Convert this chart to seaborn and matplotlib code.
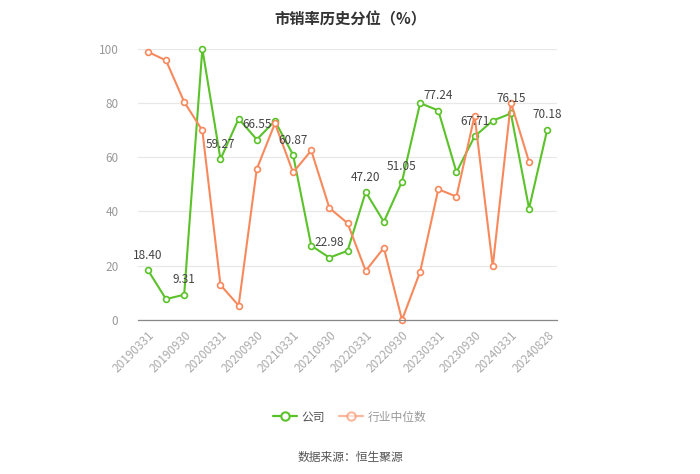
import matplotlib
matplotlib.use("Agg")
import matplotlib.pyplot as plt
import seaborn as sns
import pandas as pd
import numpy as np

dates = ["20190331", "20190630", "20190930", "20191231", "20200331", "20200630",
         "20200930", "20201231", "20210331", "20210630", "20210930", "20211231",
         "20220331", "20220630", "20220930", "20221231", "20230331", "20230630",
         "20230930", "20231231", "20240331", "20240630", "20240828"]
company = [18.40, 7.7, 9.31, 100.0, 59.27, 74.2, 66.55, 73.4, 60.87, 27.4, 22.98, 25.5,
           47.20, 36.2, 51.05, 80.0, 77.24, 54.5, 67.71, 73.5, 76.15, 41.1, 70.18]
industry = [98.9, 95.7, 80.4, 69.9, 12.9, 5.3, 55.7, 72.5, 54.4, 62.5, 41.3, 35.7,
            18.1, 26.6, 0.0, 17.8, 48.2, 45.5, 75.4, 19.8, 80.2, 58.3, None]
labeled_idx = [0, 2, 4, 6, 8, 10, 12, 14, 16, 18, 20, 22]
yticks = [0, 20, 40, 60, 80, 100]

title = "市销率历史分位（%）"
series_names = ["公司", "行业中位数"]
source = "数据来源：恒生聚源"

sns.set_theme(style="white")
plt.rcParams['font.family'] = ['Noto Sans CJK SC', 'DejaVu Sans']

green = "#5bc22a"
orange = "#f7895c"

df = pd.DataFrame({
    "idx": list(range(len(dates))) * 2,
    "value": company + industry,
    "series": [series_names[0]] * len(dates) + [series_names[1]] * len(dates),
}).dropna()

fig = plt.figure(figsize=(7.0, 4.74), dpi=100)
ax = fig.add_axes([0.197, 0.325, 0.599, 0.572])

sns.lineplot(data=df, x="idx", y="value", hue="series",
             palette={series_names[0]: green, series_names[1]: orange},
             hue_order=[series_names[0], series_names[1]],
             marker="o", markersize=4.2, markerfacecolor="white",
             markeredgewidth=1.2, linewidth=1.5, ax=ax, legend=False,
             clip_on=False)

for line, col in zip(ax.lines, [green, orange]):
    line.set_markeredgecolor(col)

for i in labeled_idx:
    ax.annotate(f"{company[i]:.2f}", (i, company[i]), xytext=(0, 6),
                textcoords="offset points", ha="center", va="bottom",
                fontsize=8.5, color="#444444")

ax.set_xlim(-0.55, len(dates) - 1 + 0.55)
ax.set_ylim(0, 100)
ax.set_yticks(yticks)
ax.set_yticklabels([str(v) for v in yticks], fontsize=8.5, color="#999999")
ax.set_xticks(range(0, len(dates), 2))
ax.set_xticklabels([dates[i] for i in range(0, len(dates), 2)], rotation=45,
                   ha="right", rotation_mode="anchor", fontsize=8.5, color="#aaaaaa")
ax.tick_params(axis="x", length=4, color="#888888", width=0.8, pad=2)
ax.tick_params(axis="y", length=0, pad=14)
ax.set_xlabel("")
ax.set_ylabel("")
ax.grid(axis="y", color="#e8e8e8", linewidth=0.9)
ax.set_axisbelow(True)
for s in ["top", "right", "left"]:
    ax.spines[s].set_visible(False)
ax.spines["bottom"].set_color("#888888")
ax.spines["bottom"].set_linewidth(0.9)

fig.text(0.5, 0.975, title, ha="center", va="top", fontsize=11,
         fontweight="bold", color="#333333")

from matplotlib.lines import Line2D
handles = [Line2D([0], [0], color=green, marker="o", markerfacecolor="white",
                  markeredgecolor=green, markersize=6, markeredgewidth=1.5, linewidth=1.6),
           Line2D([0], [0], color=orange, marker="o", markerfacecolor="white",
                  markeredgecolor=orange, markersize=6, markeredgewidth=1.5, linewidth=1.6,
                  alpha=0.6)]
leg = fig.legend(handles, series_names, loc="center", bbox_to_anchor=(0.5, 0.12),
                 ncol=2, frameon=False, fontsize=8.5, handlelength=2.0,
                 columnspacing=1.2, handletextpad=0.4)
for t in leg.get_texts():
    t.set_color("#555555")
leg.get_texts()[1].set_color("#999999")

fig.text(0.5, 0.035, source, ha="center", va="center", fontsize=8.5, color="#555555")

fig.savefig("out.png", dpi=100)
